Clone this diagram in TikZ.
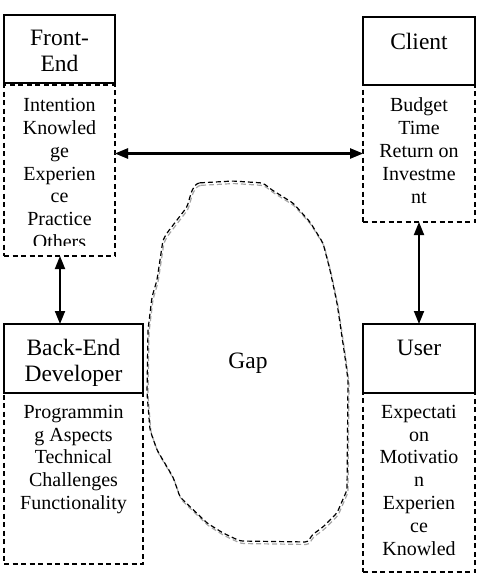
\documentclass[tikz,border=0pt]{standalone}
\usepackage{fontspec}
\setmainfont{Liberation Serif}
\usetikzlibrary{arrows.meta,calc}
\begin{document}
\begin{tikzpicture}[x=1pt,y=-1pt,
  titlebox/.style={draw, line width=1.1pt, anchor=north west, inner sep=0pt, outer sep=0pt},
  listbox/.style={draw, line width=1.1pt, dash pattern=on 5pt off 3.5pt, anchor=north west, inner sep=0pt, outer sep=0pt},
  titletext/.style={anchor=north, inner sep=0pt, align=center, font=\fontsize{23.5}{26.7}\selectfont},
  bodytext/.style={anchor=north, inner sep=0pt, align=center, font=\fontsize{20}{22.8}\selectfont},
  vtip/.style={{Triangle[length=13pt,width=10pt]}-{Triangle[length=13pt,width=10pt]}, line width=1.8pt},
  blob/.style={line width=1.2pt, dash pattern=on 5pt off 3pt, rounded corners=3pt}
]
\useasboundingbox (0,0) rectangle (480,576);

% boxes
\node[titlebox, minimum width=111pt, minimum height=68pt] (fe) at (4,15) {};
\node[listbox, minimum width=111pt, minimum height=171pt] (fed) at (4,85) {};
\node[titlebox, minimum width=112pt, minimum height=68pt] (cl) at (363,17) {};
\node[listbox, minimum width=112pt, minimum height=137pt] (cld) at (363,85) {};
\node[titlebox, minimum width=139pt, minimum height=69pt] (be) at (4,324) {};
\node[listbox, minimum width=139pt, minimum height=171pt] (bed) at (4,393) {};
\node[titlebox, minimum width=112pt, minimum height=69pt] (us) at (363,324) {};
\node[listbox, minimum width=112pt, minimum height=179pt] (usd) at (363,393) {};

% titles
\node[titletext] (fet) at (59.5,28) {\rule{0pt}{17pt}Front-\\End};
\node[titletext] (clt) at (419,32) {\rule{0pt}{17pt}Client};
\node[titletext] (bet) at (73.5,338) {\rule{0pt}{17pt}Back-End\\Developer};
\node[titletext] (ust) at (419,338) {\rule{0pt}{17pt}User};

% bodies
\begin{scope}
\clip (4,85) rectangle (115,245);
\node[bodytext] (fel) at (59.5,97.5) {\rule{0pt}{14pt}Intention\\Knowled\\ge\\Experien\\ce\\Practice\\Others};
\end{scope}
\node[bodytext] (cll) at (419,97.7) {\rule{0pt}{14pt}Budget\\Time\\Return on\\Investme\\nt};
\node[bodytext] (bel) at (73.5,404) {\rule{0pt}{14pt}Programmin\\g Aspects\\Technical\\Challenges\\Functionality};
\node[bodytext] (usl) at (419,404) {\rule{0pt}{14pt}Expectati\\on\\Motivatio\\n\\Experien\\ce\\Knowled};

% gap blob
\foreach \col/\dx/\dy in {black!35/1/2.5, black/0/0}{
\draw[blob, draw=\col, shift={(\dx pt,-\dy pt)}]
 (197,183) -- (233,181) -- (263,183) -- (272,190) -- (293,203) -- (310,222)
 -- (323,243) -- (330,270) -- (337,303) -- (345,357) -- (348,380) -- (347,490)
 -- (337,513) -- (323,527) -- (312,535) -- (308,542) -- (240,541) -- (223,533)
 -- (207,523) -- (180,497) -- (173,477) -- (157,450) -- (150,430) -- (147,393)
 -- (148,330) -- (152,297) -- (157,280) -- (163,240) -- (167,233) -- (187,207)
 -- (192,190) -- cycle;
}
\node[inner sep=0pt, anchor=base, font=\fontsize{23.5}{26.7}\selectfont] (gap) at (248,368) {Gap};

% connectors
\coordinate (la) at ([xshift=0.5pt]fed.south);
\draw[vtip, draw=black!40, fill=black!40, shift={(1pt,-2.5pt)}] (fed.east |- cld.east) -- (cld.west);
\draw[vtip, line width=2.2pt] (fed.east |- cld.east) -- (cld.west);
\draw[vtip] (la) -- (be.north -| la);
\draw[vtip] (cld.south) -- (us.north);
\end{tikzpicture}
\end{document}
